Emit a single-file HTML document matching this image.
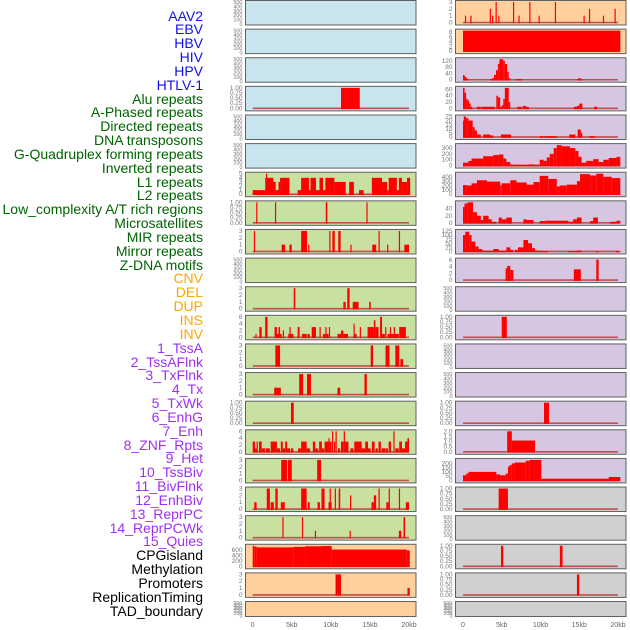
<!DOCTYPE html>
<html><head><meta charset="utf-8">
<style>
body{margin:0;background:#fff;width:630px;height:630px;overflow:hidden;font-family:"Liberation Sans",sans-serif}
#wrap{position:relative;width:630px;height:630px}
.lab{position:absolute;right:427px;font-size:14px;line-height:14px;white-space:nowrap}
svg{position:absolute;left:0;top:0}
</style></head>
<body>
<div id="wrap">
<svg id="chart" width="630" height="630"></svg>
</div>
<script>
const trackLabels=["AAV2","EBV","HBV","HIV","HPV","HTLV-1","Alu repeats","A-Phased repeats","Directed repeats","DNA transposons","G-Quadruplex forming repeats","Inverted repeats","L1 repeats","L2 repeats","Low_complexity A/T rich regions","Microsatellites","MIR repeats","Mirror repeats","Z-DNA motifs","CNV","DEL","DUP","INS","INV","1_TssA","2_TssAFlnk","3_TxFlnk","4_Tx","5_TxWk","6_EnhG","7_Enh","8_ZNF_Rpts","9_Het","10_TssBiv","11_BivFlnk","12_EnhBiv","13_ReprPC","14_ReprPCWk","15_Quies","CPGisland","Methylation","Promoters","ReplicationTiming","TAD_boundary"];
const labelGroups=[0,0,0,0,0,0,1,1,1,1,1,1,1,1,1,1,1,1,1,2,2,2,2,2,3,3,3,3,3,3,3,3,3,3,3,3,3,3,3,4,4,4,4,4];
const xTickLabels=["0","5kb","10kb","15kb","20kb"];
const xTickValues=[0,5,10,15,20];
const T_EMPTY=[0,100,200,300,400,500],T_ONE=["0.00","0.25","0.50","0.75","1.00"],T3=[0,1,2,3],T6=[0,2,4,6];
const L0=[],L1=[],L2=[],L4=[],L5=[],L9=[],L21=[];
const L3=[[11.3,13.7,1]];
const L6=[[0,1.6,1],[1.6,2.65,4],[1.7,1.85,5],[2.65,2.95,3],[2.95,3.3,1],[3.3,3.5,3],[3.5,4.7,4],[5.75,6.2,1],[6.2,7.2,4],[7.2,7.4,1],[7.4,8.1,4],[8.1,8.55,1],[8.55,9.0,4],[9.0,9.3,1],[9.3,10.45,4],[10.45,11.9,3],[12.35,12.95,3],[13.6,14.2,1],[15.25,16.55,4],[16.55,17.2,3],[17.2,17.4,1],[17.4,18.45,4],[18.45,18.7,1],[18.7,19.1,4],[19.1,19.75,3],[19.75,20.15,4]];
const L7=[[0.45,0.6,1],[2.85,3.0,1],[9.35,9.55,1],[14.55,14.7,1]];
const L8=[[0.15,0.3,3],[3.7,4.15,1],[4.7,5.0,1],[6.2,6.95,3],[7.1,7.25,1],[9.8,9.95,3],[10.2,10.5,3],[10.95,11.25,3],[12.5,12.65,1],[15.3,15.8,1],[16.1,16.25,3],[17.2,17.35,1],[18.7,18.85,3],[19.4,20.0,1]];
const L10=[[5.25,5.45,3],[11.6,11.9,1],[12.1,12.4,3],[12.8,13.55,1],[14.9,15.1,1]];
const L11=[[0.35,0.5,1],[0.85,1.15,3],[1.6,1.9,6],[2.8,3.1,3],[3.1,3.3,1],[3.3,3.5,3],[3.5,3.7,1],[3.85,4.0,2],[4.55,4.7,1],[4.7,4.85,3],[4.85,5.2,1],[5.75,6.0,3],[6.3,6.9,1],[7.0,7.3,1],[7.55,8.1,3],[8.55,8.7,3],[9.0,9.3,1],[9.3,9.45,3],[9.45,9.7,1],[9.75,9.9,3],[10.85,11.3,1],[11.3,11.6,2],[11.6,12.2,1],[12.9,13.05,4],[13.05,13.3,1],[13.7,13.85,3],[14.7,15.5,3],[15.5,15.7,5],[15.7,16.1,3],[16.3,16.55,6],[16.55,16.9,1],[16.95,17.1,3],[17.25,17.55,1],[17.55,17.7,3],[17.7,18.05,1],[18.05,18.2,3],[18.2,18.7,1],[18.75,19.6,3]];
const L12=[[2.9,3.5,3],[15.1,15.4,3],[17.0,17.5,3],[18.25,18.75,3],[18.9,19.25,1]];
const L13=[[2.75,3.6,1],[5.95,6.45,3],[6.95,7.45,3],[10.85,11.2,1],[14.3,14.6,3]];
const L14=[[4.9,5.25,1]];
const L15=[[0,0.3,3],[0.3,0.5,1],[0.5,0.65,3],[0.8,1.15,3],[1.15,1.6,1],[1.7,2.2,1],[2.3,3.1,3],[3.1,3.5,1],[3.6,3.85,3],[3.85,4.15,1],[4.15,4.4,3],[4.4,4.8,1],[4.9,5.2,1],[5.8,6.2,1],[6.2,6.9,3],[6.9,7.35,1],[7.7,8.0,3],[8.0,8.4,1],[8.5,8.85,3],[8.85,9.15,1],[9.2,9.7,3],[9.7,9.8,4],[9.85,10.1,3],[10.15,10.3,6],[10.4,10.55,3],[10.6,10.7,6],[10.9,11.2,1],[11.3,11.65,3],[11.65,11.8,6],[11.8,12.25,3],[12.5,12.9,1],[13.0,13.95,3],[13.95,14.4,1],[14.4,14.75,3],[14.75,15.1,1],[15.25,15.6,3],[15.7,16.0,1],[16.1,16.4,3],[16.5,17.0,1],[17.05,17.3,1],[17.4,17.7,3],[18.0,18.15,6],[18.25,18.7,1],[18.75,19.1,3],[19.1,19.5,1],[19.5,19.8,3],[19.8,20.0,4]];
const L16=[[3.65,4.4,3],[4.5,5.0,3],[8.25,8.75,3]];
const L17=[[0.2,0.5,1],[1.8,2.2,3],[2.3,2.7,1],[2.9,3.2,3],[3.6,4.1,1],[6.2,6.9,3],[7.05,7.3,1],[8.3,8.6,1],[8.8,9.2,3],[9.7,10.1,1],[9.85,10.0,3],[10.5,10.65,3],[11.0,11.2,3],[12.45,12.6,2],[15.2,15.5,1],[15.5,15.8,2],[16.1,16.25,3],[17.1,17.4,1],[17.4,17.55,3],[18.7,18.85,3],[19.6,20.0,1]];
const L18=[[3.8,3.95,3],[6.3,6.4,3],[7.95,8.1,1],[12.4,12.55,1],[18.7,19.0,1],[19.3,19.5,3]];
const L19=[[0,0.2,760],[0.2,0.5,730],[0.5,5.2,700],[5.2,6.7,720],[6.7,8.8,740],[8.8,10.1,750],[10.1,19.7,620],[19.7,20.1,590]];
const L20=[[10.6,11.3,3],[19.8,20.1,1]];
const R0=[[0.25,0.4,1],[0.95,1.1,1],[3.45,3.6,2],[3.75,3.9,1],[4.2,4.35,3],[4.55,4.7,1],[6.45,6.6,3],[7.15,7.3,1],[8.55,8.7,3],[9.75,9.9,1],[11.85,12.0,3],[15.55,15.7,1],[16.25,16.4,2],[18.05,18.2,1],[19.55,19.7,2]];
const R1=[[0,20.3,8.6]];
const R2=[[0,0.1,30],[0.1,0.25,25],[0.25,0.5,15],[0.5,0.7,5],[3.5,3.75,5],[3.75,4.0,10],[4.0,4.25,30],[4.25,4.5,60],[4.5,4.7,100],[4.7,5.2,130],[5.2,5.4,120],[5.4,5.7,100],[5.7,5.9,50],[5.9,6.1,10],[6.8,7.6,5],[14.7,14.9,5],[14.9,15.2,10],[15.2,15.3,5]];
const R3=[[0,0.2,65],[0.2,0.4,50],[0.4,0.6,30],[0.6,0.8,25],[0.8,1.0,15],[1.0,1.2,5],[1.8,2.3,5],[2.4,4.1,5],[4.3,4.5,40],[4.5,4.8,35],[4.8,5.0,5],[5.0,5.2,10],[5.2,5.4,30],[5.4,5.9,65],[5.9,6.1,20],[7.0,7.6,5],[7.7,8.1,8],[8.1,8.5,5],[14.3,14.7,5],[14.7,15.0,8],[15.0,15.4,15],[16.9,17.3,5]];
const R4=[[0,0.1,20],[0.1,0.4,25],[0.4,0.7,23],[0.7,1.25,20],[1.25,1.5,12],[1.5,1.8,8],[1.8,2.3,3],[2.6,3.5,3],[3.5,3.9,2],[4.9,6.2,3],[9.9,10.4,1],[10.5,12.1,1],[13.7,14.5,3],[14.8,15.2,9],[15.2,15.4,5],[16.3,17.0,1]];
const R5=[[0,0.7,50],[0.7,1.1,80],[1.1,2.6,120],[2.6,3.9,160],[3.9,4.6,180],[4.6,5.2,190],[5.2,5.6,120],[5.6,6.1,60],[6.1,6.4,20],[6.4,8.4,15],[8.4,9.1,20],[9.1,9.9,15],[9.9,10.4,100],[10.4,10.8,80],[10.8,11.2,140],[11.2,11.7,200],[11.7,12.1,300],[12.1,12.7,350],[12.7,13.8,330],[13.8,14.5,300],[14.5,14.9,250],[14.9,15.3,150],[15.3,15.9,50],[15.9,16.8,80],[16.8,17.5,110],[17.5,18.1,60],[18.1,18.8,100],[18.8,19.8,130],[19.8,20.3,150]];
const R6=[[0,0.5,210],[0.5,1.1,200],[1.1,1.8,250],[1.8,3.1,320],[3.1,4.8,290],[4.8,5.0,200],[5.0,6.1,250],[6.1,6.9,320],[6.9,8.2,270],[8.2,9.1,220],[9.1,9.9,280],[9.9,11.0,420],[11.0,12.1,350],[12.1,12.5,180],[12.5,13.4,200],[13.4,14.7,220],[14.7,15.1,300],[15.1,16.4,460],[16.4,17.2,430],[17.2,18.1,470],[18.1,19.2,400],[19.2,20.3,370]];
const R7=[[0,0.2,45],[0.2,0.6,55],[0.6,1.3,58],[1.3,1.8,30],[1.8,2.3,20],[2.3,2.6,8],[2.6,3.3,20],[3.3,3.7,10],[3.7,4.3,3],[4.6,5.0,15],[5.0,5.6,10],[5.6,6.3,15],[7.8,8.2,10],[8.2,9.1,8],[9.9,10.6,5],[10.6,13.6,6],[13.6,14.2,3],[14.2,14.7,10],[14.7,15.3,15],[16.4,16.8,5],[16.8,17.4,15],[19.0,19.8,3],[19.8,20.3,6]];
const R8=[[0,0.3,100],[0.3,0.8,120],[0.8,1.1,100],[1.1,1.6,60],[1.6,2.0,30],[2.0,2.5,15],[2.5,3.9,5],[3.9,4.6,15],[4.6,5.6,5],[5.6,6.1,25],[6.1,6.5,10],[6.7,7.1,10],[7.1,7.8,25],[7.8,8.4,70],[8.4,8.9,50],[8.9,9.3,20],[9.3,10.2,5],[10.2,11.0,3],[13.6,14.7,3],[14.7,15.3,6],[17.2,17.5,2],[19.7,20.3,4]];
const R9=[[5.5,5.7,3.5],[5.7,6.1,4.2],[6.1,6.5,3],[14.3,15.2,3.2],[17.2,17.5,6.1]];
const R10=[],R12=[],R13=[],R18=[],R21=[];
const R11=[[5.0,5.65,1]];
const R14=[[10.45,11.1,1]];
const R15=[[5.7,6.3,2],[6.3,9.3,1.1]];
const R16=[[0,0.4,60],[0.4,0.7,80],[0.7,4.3,100],[4.3,4.8,70],[4.8,5.5,60],[5.5,5.8,80],[5.8,6.0,160],[6.0,6.3,180],[6.3,6.7,200],[6.7,8.1,210],[8.1,8.6,230],[8.6,10.1,240],[10.1,18.8,20],[18.8,20.3,40]];
const R17=[[4.6,5.8,1]];
const R19=[[4.9,5.2,1],[12.5,12.85,1]];
const R20=[[14.7,15.0,1]];

const leftBars=[L0,L1,L2,L3,L4,L5,L6,L7,L8,L9,L10,L11,L12,L13,L14,L15,L16,L17,L18,L19,L20,L21];
const rightBars=[R0,R1,R2,R3,R4,R5,R6,R7,R8,R9,R10,R11,R12,R13,R14,R15,R16,R17,R18,R19,R20,R21];
const leftTicks=[T_EMPTY,T_EMPTY,T_EMPTY,T_ONE,T_EMPTY,T_EMPTY,[0,1,2,3,4,5],T_ONE,T3,T_EMPTY,T3,T6,T3,T3,T_ONE,T6,T3,T3,T3,[0,200,400,600],T3,T_EMPTY];
const rightTicks=[T3,[0,2,4,6,8],[0,40,80,120],[0,20,40,60],[0,5,10,15,20,25],[0,100,200,300],[0,100,200,300,400],[0,20,40],[0,25,50,75,100,125],T6,T_EMPTY,T_ONE,T_EMPTY,T_EMPTY,T_ONE,["0.0","0.5","1.0","1.5","2.0"],[0,50,100,150,200],T_ONE,T_EMPTY,T_ONE,T_ONE,T_EMPTY];
const leftColors=[0,0,0,0,0,0,1,1,1,1,1,1,1,1,1,1,1,1,1,2,2,2];
const rightColors=[2,2,3,3,3,3,3,3,3,3,3,3,3,3,3,3,3,4,4,4,4,4];

const bgColors=["#c8e4ec","#c8e0a0","#ffd09c","#d6c6e2","#d0d0d0"];
const textColors=["#1010ee","#006400","#ffa500","#a030ee","#000000"];
const NS="http://www.w3.org/2000/svg";
const svg=document.getElementById('chart');
const wrap=document.getElementById('wrap');
const ROW_PITCH=28.62, PANEL_H=24.5, LAST_H=15;
function mk(tag,attrs){const e=document.createElementNS(NS,tag);for(const k in attrs)e.setAttribute(k,attrs[k]);svg.appendChild(e);return e;}

trackLabels.forEach((t,i)=>{
  const d=document.createElement('div');
  d.className='lab';
  d.style.top=(8.5+i*13.84)+'px';
  d.style.color=textColors[labelGroups[i]];
  d.textContent=t;
  
  
  wrap.appendChild(d);
});

function drawColumn(bars,ticks,colors,px0,px1,x0,x1){
  const xs=v=>x0+(x1-x0)*v/20;
  bars.forEach((b,i)=>{
    const top=0.5+i*ROW_PITCH;
    const h=(i===bars.length-1)?LAST_H:PANEL_H;
    const r=mk('rect',{x:px0,y:top,width:px1-px0,height:h,fill:bgColors[colors[i]],stroke:'#606060','stroke-width':1});
    
    
    const tk=ticks[i];
    const tmax=parseFloat(tk[tk.length-1]);
    let dmax=tmax;b.forEach(d=>{if(d[2]>dmax)dmax=d[2];});
    const empty=b.length===0;
    const ymax=empty?tmax:dmax;
    const yTop=top+1.5, yZero=top+(empty?h-1:h-2.5);
    const ys=v=>yZero-(yZero-yTop)*v/ymax;
    tk.forEach(t=>{
      const tx=mk('text',{x:px0-3,y:ys(parseFloat(t))+2,'font-size':empty?5.5:6.5,fill:'#777','text-anchor':'end','font-family':'Liberation Sans, sans-serif'});
      tx.textContent=t;
      
      
    });
    if(!empty){
      const bl=mk('line',{x1:xs(0),x2:xs(20),y1:yZero,y2:yZero,stroke:'#c05050','stroke-width':1.6});
      
      
    }
    b.forEach(d=>{
      const v=Math.min(d[2],ymax);
      const w=Math.max(xs(d[1])-xs(d[0]),1.2);
      const br=mk('rect',{x:xs(d[0]),y:ys(v),width:w,height:yZero-ys(v)+0.8,fill:'#ff0000'});
      
      
    });
  });
  xTickValues.forEach((v,k)=>{
    const tx=mk('text',{x:xs(v),y:627,'font-size':7,fill:'#666','text-anchor':'middle','font-family':'Liberation Sans, sans-serif'});
    tx.textContent=xTickLabels[k];
    
    
  });
}
drawColumn(leftBars,leftTicks,leftColors,245.5,416,252.7,409);
drawColumn(rightBars,rightTicks,rightColors,455.5,626,463,618);
</script>
</body></html>
